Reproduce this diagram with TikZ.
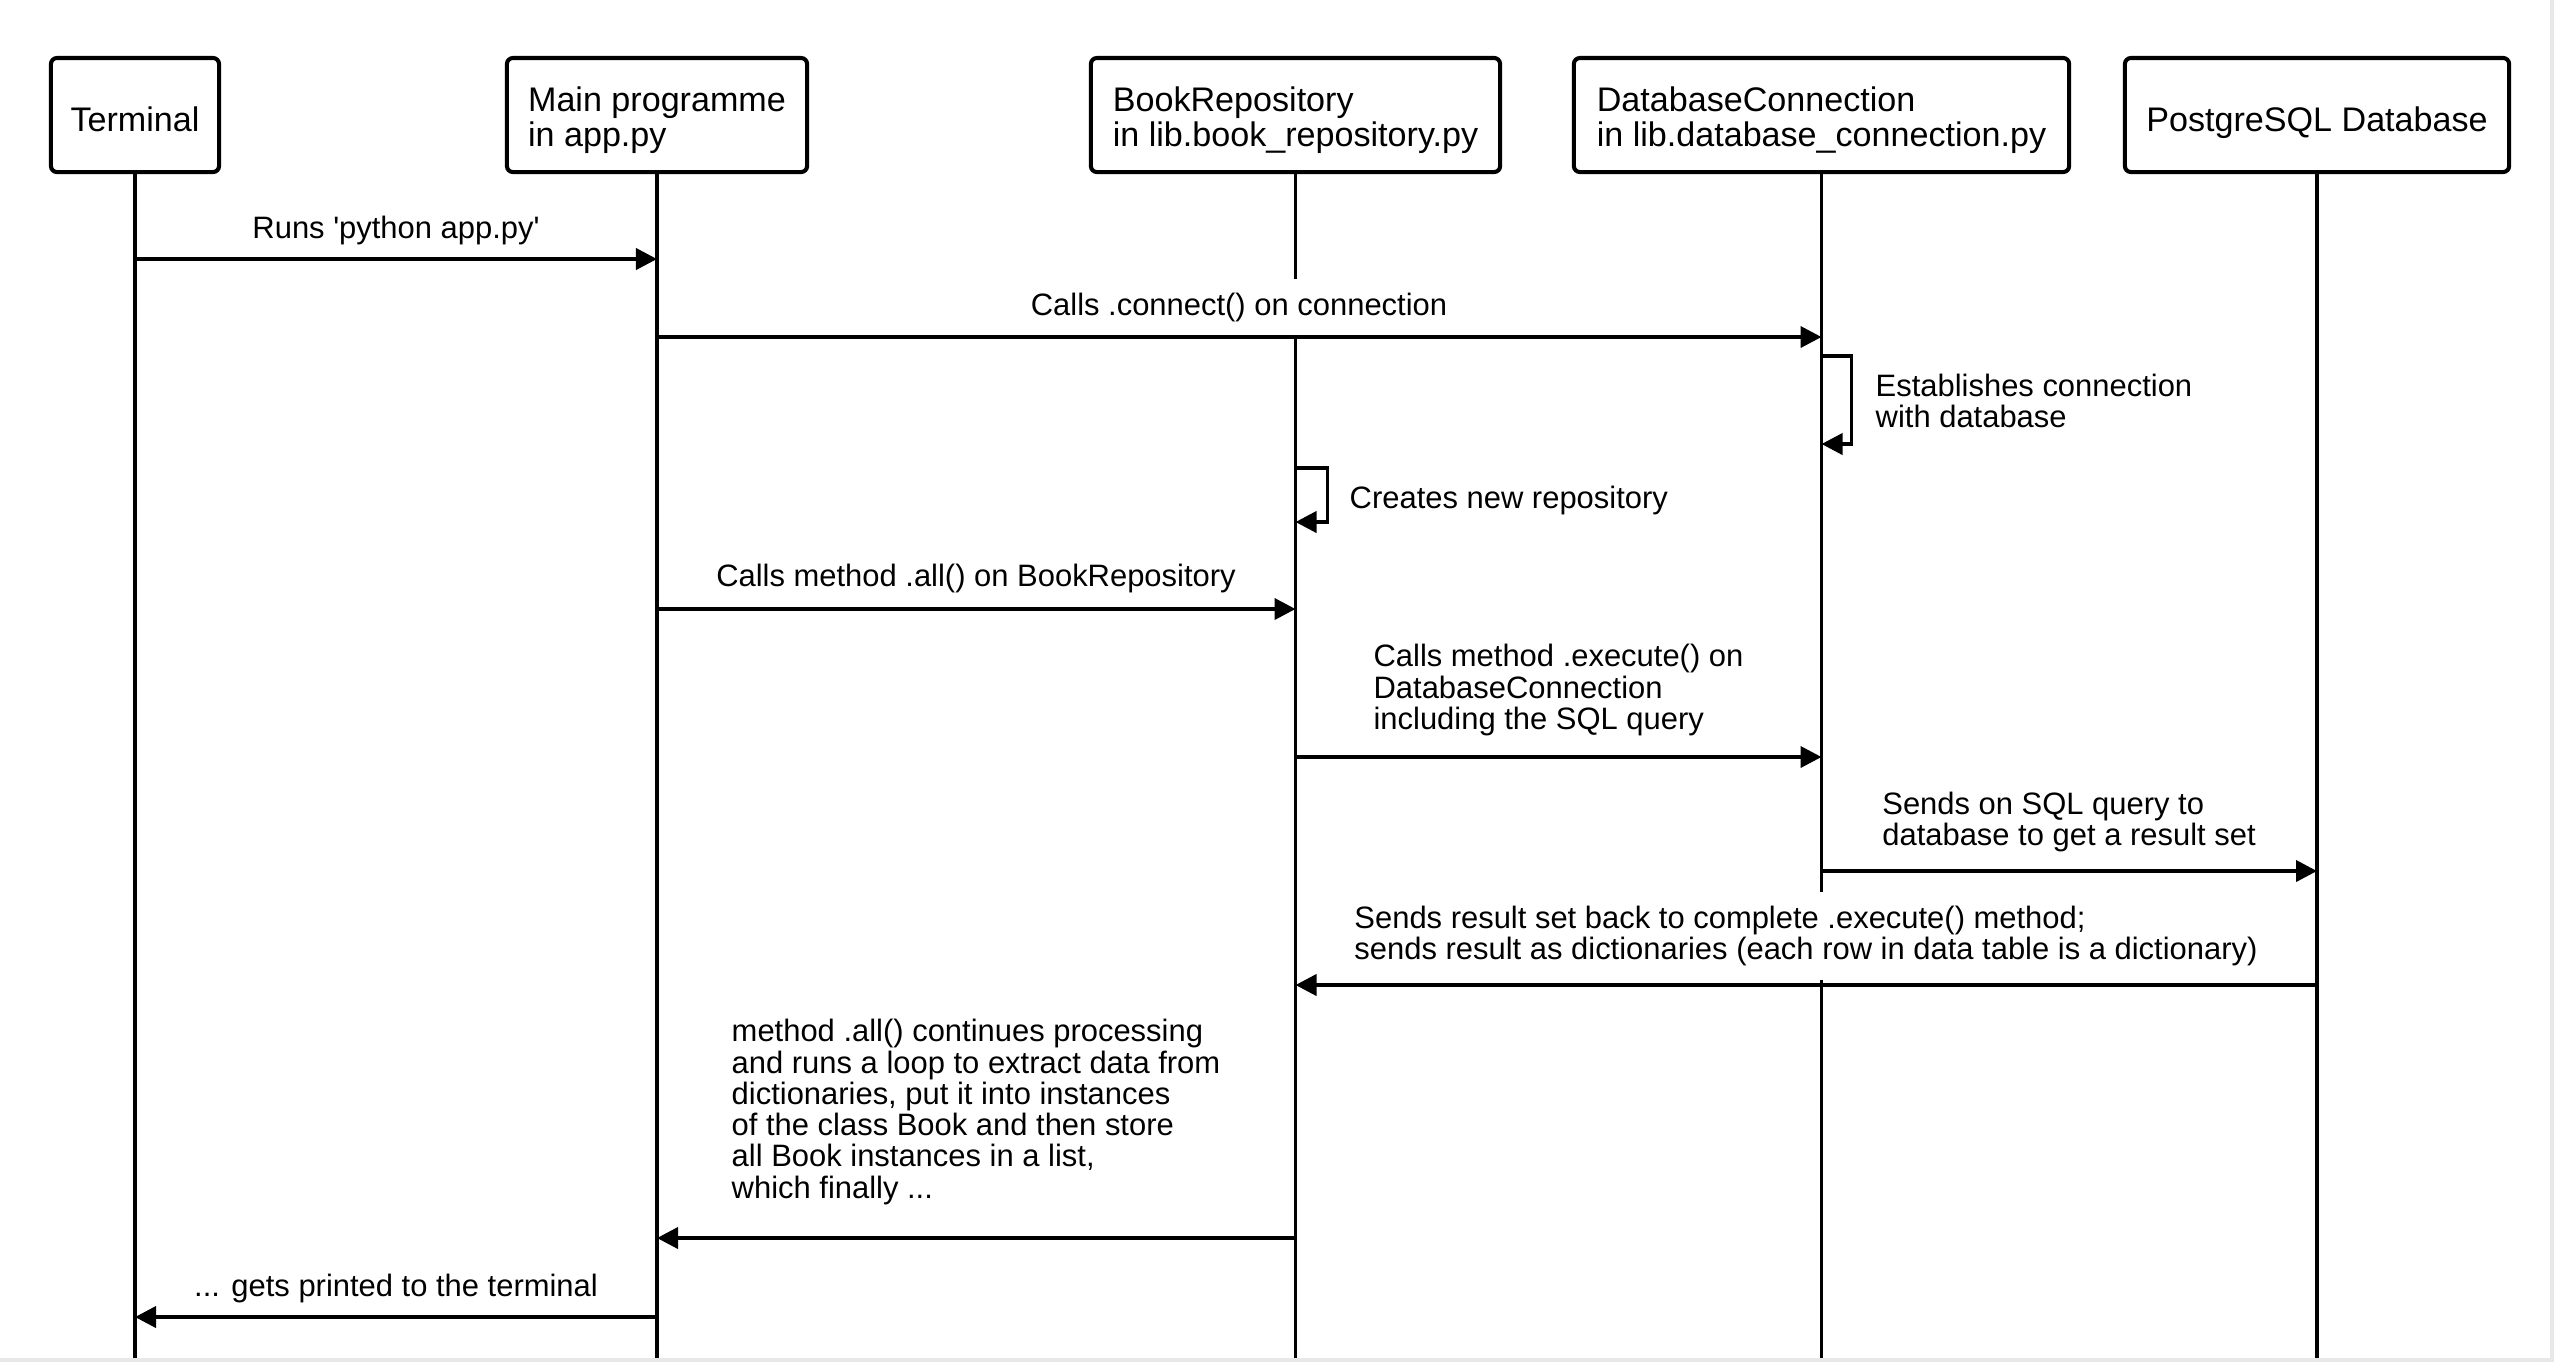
\documentclass[tikz,border=0pt]{standalone}
\usepackage{fontspec}
\setmainfont{Liberation Sans}[Ligatures=TeXOff]
\usetikzlibrary{arrows.meta,calc}
\begin{document}
\begin{tikzpicture}[x=0.01cm,y=-0.01cm,
  actor/.style={draw,line width=1.15pt,rounded corners=0.06cm,
    minimum height=1.14cm,align=left,inner sep=0pt,
    font=\fontsize{9.7pt}{9.8pt}\selectfont},
  actorone/.style={actor,text height=0.33cm,text depth=0pt},
  actortwo/.style={actor,text height=0.69cm,text depth=0.07cm},
  life/.style={line width=1pt},
  msg/.style={line width=1.1pt,miter limit=10,
    -{Triangle[length=2.1mm,width=2.1mm]}},
  lbl/.style={fill=white,align=left,inner xsep=2pt,inner ysep=0.14cm,
    font=\fontsize{8.8pt}{8.9pt}\selectfont},
  note/.style={anchor=west,align=left,inner sep=0pt,
    font=\fontsize{8.8pt}{8.9pt}\selectfont}]

\useasboundingbox (0,0) rectangle (2554,1362);
% thin frame on the right and bottom edges
\fill[black!9] (2550,0) rectangle (2554,1362);
\fill[black!9] (0,1358) rectangle (2554,1362);

% participants
\node[actorone,minimum width=1.68cm] (term) at (135,115) {Terminal};
\node[actortwo,minimum width=3.00cm] (main) at (657,115) {Main programme\\in app.py};
\node[actortwo,minimum width=4.09cm] (repo) at (1295.5,115) {BookRepository\\in lib.book\_repository.py};
\node[actortwo,minimum width=4.95cm] (conn) at (1821.5,115) {DatabaseConnection\\in lib.database\_connection.py};
\node[actorone,minimum width=3.84cm] (pg) at (2317,115) {PostgreSQL Database};

% lifelines
\coordinate (bottom) at (0,1358);
\foreach \p in {term,main,repo,conn,pg}
  \draw[life] (\p.south) -- (\p |- bottom);

% message heights
\coordinate (m1) at (0,259);
\coordinate (m2) at (0,337);
\coordinate (s1a) at (0,356);
\coordinate (s1b) at (0,444);
\coordinate (s2a) at (0,468);
\coordinate (s2b) at (0,522);
\coordinate (m5) at (0,609);
\coordinate (m6) at (0,757);
\coordinate (m7) at (0,871);
\coordinate (m8) at (0,985);
\coordinate (m9) at (0,1238);
\coordinate (m10) at (0,1317);

% message labels
\node[lbl] (l1) at (396,230) {Runs 'python app.py'};
\node[lbl] (l2) at (1239,307) {Calls .connect() on connection};
\node[lbl] (l5) at (976,578) {Calls method .all() on BookRepository};
\node[lbl] (l6) at (1558.5,690) {Calls method .execute() on\\DatabaseConnection\\including the SQL query};
\node[lbl] (l7) at (2069,822) {Sends on SQL query to\\database to get a result set};
\node[lbl] (l8) at (1806,936) {Sends result set back to complete .execute() method;\\sends result as dictionaries (each row in data table is a dictionary)};
\node[lbl] (l9) at (976,1112) {method .all() continues processing\\and runs a loop to extract data from\\dictionaries, put it into instances\\of the class Book and then store\\all Book instances in a list,\\which finally ...};
\node[lbl] (l10) at (396,1288) {... gets printed to the terminal};

% self-message labels
\node[note] (n1) at (1875,401) {Establishes connection\\with database};
\node[note] (n2) at (1349,500) {Creates new repository};

% messages
\draw[msg] (term |- m1) -- (main |- m1);
\draw[msg] (main |- m2) -- (conn |- m2);
\draw[msg] (conn |- s1a) -- ++(30,0) |- (conn |- s1b);
\draw[msg] (repo |- s2a) -- ++(32,0) |- (repo |- s2b);
\draw[msg] (main |- m5) -- (repo |- m5);
\draw[msg] (repo |- m6) -- (conn |- m6);
\draw[msg] (conn |- m7) -- (pg |- m7);
\draw[msg] (pg |- m8) -- (repo |- m8);
\draw[msg] (repo |- m9) -- (main |- m9);
\draw[msg] (main |- m10) -- (term |- m10);
\end{tikzpicture}
\end{document}
